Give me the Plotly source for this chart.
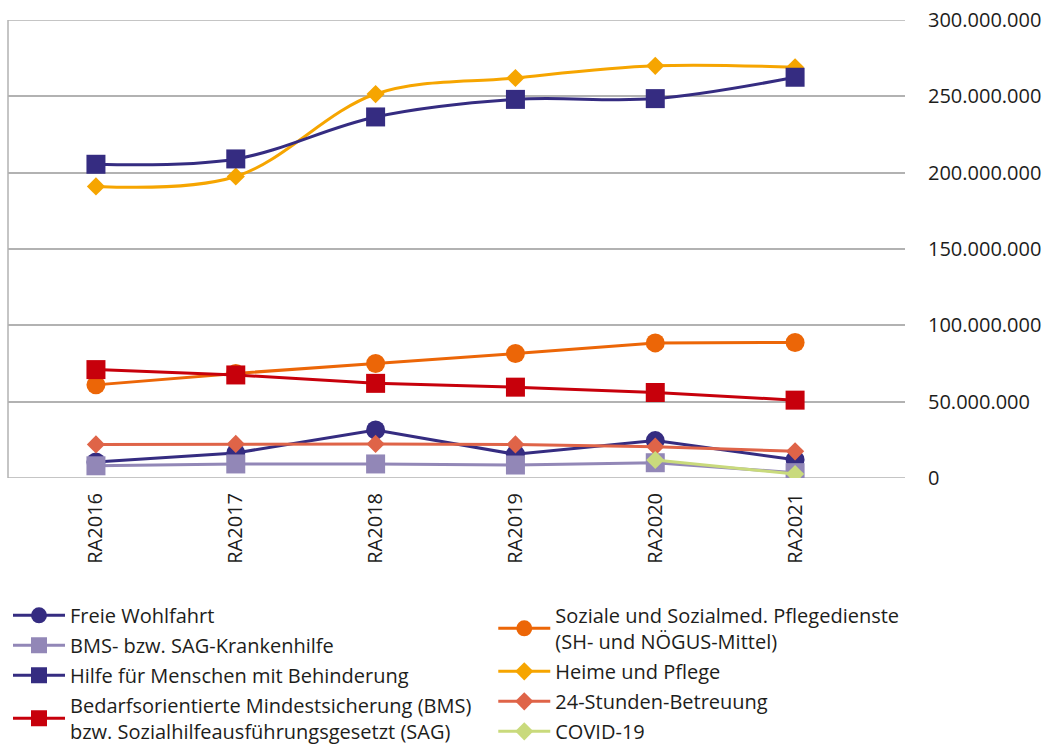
import plotly.graph_objects as go

# Rechnungsabschlüsse
categories = ["RA2016", "RA2017", "RA2018", "RA2019", "RA2020", "RA2021"]

freie_wohlfahrt = [10.5e6, 16.4e6, 31.5e6, 15.5e6, 24.5e6, 12.0e6]
bms_krankenhilfe = [8.0e6, 9.2e6, 9.2e6, 8.5e6, 10.0e6, 3.5e6]
hilfe_behinderung = [205.5e6, 209.0e6, 236.5e6, 248.0e6, 248.5e6, 262.5e6]
bedarfsorientiert = [71.0e6, 67.5e6, 62.0e6, 59.5e6, 56.0e6, 51.0e6]
soziale_pflege = [61.0e6, 68.5e6, 75.0e6, 81.5e6, 88.5e6, 88.8e6]
heime_pflege = [191.0e6, 197.5e6, 251.5e6, 262.0e6, 270.0e6, 269.0e6]
betreuung_24h = [22.0e6, 22.3e6, 22.3e6, 22.0e6, 20.5e6, 17.5e6]
covid_19 = [None, None, None, None, 11.8e6, 2.6e6]

y_ticks = [0, 50e6, 100e6, 150e6, 200e6, 250e6, 300e6]
y_ticktext = ["0", "50.000.000", "100.000.000", "150.000.000",
              "200.000.000", "250.000.000", "300.000.000"]

FONT = "Open Sans"
TEXT = "#1d1d1b"
GRID = "#b2b2b2"


def series(name, values, color, symbol, size, legend, smooth=False):
    return go.Scatter(
        x=categories, y=values, name=name, legend=legend, legendgroup=name,
        mode="lines+markers",
        line=dict(color=color, width=3, shape="spline" if smooth else "linear"),
        marker=dict(color=color, symbol=symbol, size=size),
        connectgaps=False,
    )


def frame_line(x0, x1, y0, y1):
    return dict(type="line", xref="paper", yref="y", x0=x0, x1=x1, y0=y0, y1=y1,
                layer="below", line=dict(color=GRID, width=1.5))


fig = go.Figure()
# drawing order follows the reference (later traces on top)
fig.add_trace(series("Soziale und Sozialmed. Pflegedienste<br>(SH- und NÖGUS-Mittel)",
                     soziale_pflege, "#ec6607", "circle", 19, "legend2"))
fig.add_trace(series("Heime und Pflege", heime_pflege, "#f6a500", "diamond", 14,
                     "legend2", smooth=True))
fig.add_trace(series("Freie Wohlfahrt", freie_wohlfahrt, "#352c81", "circle", 19, "legend"))
fig.add_trace(series("BMS- bzw. SAG-Krankenhilfe", bms_krankenhilfe, "#9287b7",
                     "square", 19, "legend"))
fig.add_trace(series("Hilfe für Menschen mit Behinderung", hilfe_behinderung, "#352c81",
                     "square", 19, "legend", smooth=True))
fig.add_trace(series("Bedarfsorientierte Mindestsicherung (BMS)<br>bzw. Sozialhilfeausführungsgesetzt (SAG)",
                     bedarfsorientiert, "#c7000b", "square", 19, "legend"))
fig.add_trace(series("24-Stunden-Betreuung", betreuung_24h, "#df6448", "diamond", 14, "legend2"))
fig.add_trace(series("COVID-19", covid_19, "#c9da7c", "diamond", 14, "legend2"))

legend_style = dict(
    orientation="v", yanchor="top", xanchor="left",
    yref="container", y=0.2013,
    font=dict(family=FONT, size=20, color=TEXT),
    bgcolor="rgba(0,0,0,0)", itemwidth=52,
    traceorder="grouped", tracegroupgap=1,
)

y_min, y_max = y_ticks[0], y_ticks[-1]

fig.update_layout(
    width=1047, height=746,
    margin=dict(l=8, r=142, t=20, b=268),
    paper_bgcolor="white", plot_bgcolor="white",
    font=dict(family=FONT, color=TEXT),
    showlegend=True,
    legend=dict(x=0, **legend_style),
    legend2=dict(x=0.541, **legend_style),
    xaxis=dict(
        type="category", range=[-0.629, 5.786],
        showgrid=False, zeroline=False, showline=False, ticks="",
        tickangle=-90, ticklabelstandoff=10,
        tickfont=dict(family=FONT, size=20, color=TEXT),
    ),
    yaxis=dict(
        side="right", range=[y_min, y_max], automargin=False,
        tickvals=y_ticks, ticktext=y_ticktext,
        showgrid=True, gridcolor=GRID, gridwidth=1.5,
        zeroline=False, showline=False, ticks="",
        ticklabelstandoff=22, ticklabeloverflow="allow",
        tickfont=dict(family=FONT, size=20, color=TEXT),
    ),
    # plotly drops gridlines sitting on the plot edges, so draw the frame itself
    shapes=[
        frame_line(0, 0, y_min, y_max),
        frame_line(0, 1, y_min, y_min),
        frame_line(0, 1, y_max, y_max),
    ],
)

# drop the default 8px body margin so the figure fills the window
fig.write_html("out.html", config={"displayModeBar": False},
               post_script="document.body.style.margin = '0';")
